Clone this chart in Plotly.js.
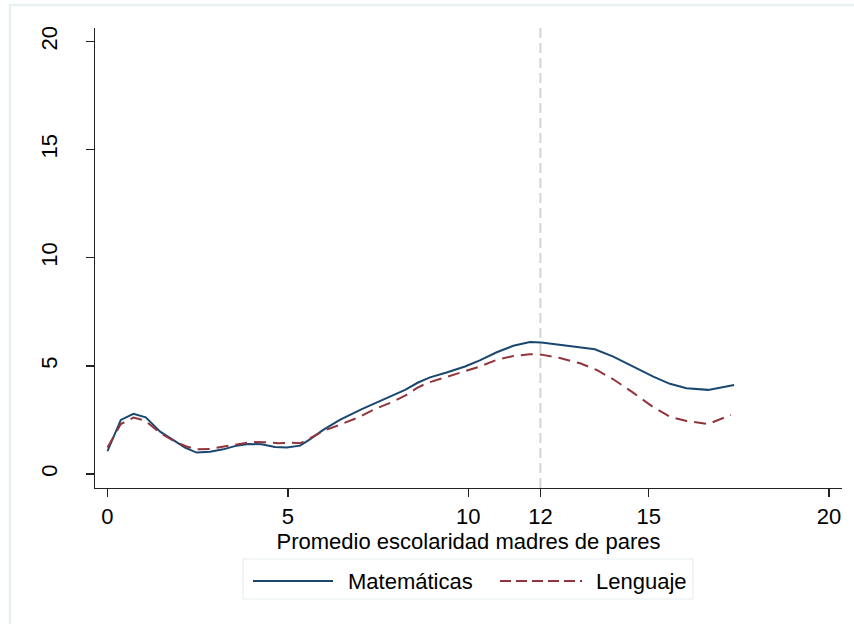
<!DOCTYPE html>
<html>
<head>
<meta charset="utf-8">
<script src="https://cdn.plot.ly/plotly-3.0.1.min.js"></script>
<style>html,body{margin:0;padding:0;background:#fff;}#chart{width:854px;height:624px;}</style>
</head>
<body>
<div id="chart"></div>
<script>
const mathX = [0.0,0.37,0.72,1.06,1.46,1.82,2.15,2.47,2.84,3.21,3.58,3.90,4.27,4.64,4.97,5.34,5.61,5.98,6.44,7.05,7.41,7.83,8.25,8.61,8.94,9.40,9.91,10.32,10.79,11.25,11.71,12.03,12.45,13.00,13.51,14.02,14.57,15.13,15.59,16.05,16.65,17.25,17.37];
const mathY = [1.06,2.50,2.78,2.62,1.96,1.57,1.22,0.99,1.03,1.14,1.31,1.39,1.37,1.25,1.23,1.31,1.60,2.04,2.50,3.00,3.27,3.55,3.89,4.23,4.47,4.69,4.97,5.25,5.63,5.93,6.10,6.08,5.99,5.90,5.77,5.43,4.97,4.50,4.17,3.97,3.89,4.09,4.12];
const langX = [0.0,0.37,0.72,1.04,1.46,1.87,2.19,2.47,2.84,3.21,3.58,3.99,4.36,4.73,5.06,5.34,5.61,5.98,6.49,7.00,7.41,7.92,8.29,8.57,8.85,9.31,9.77,10.32,10.79,11.25,11.71,12.03,12.54,13.10,13.56,14.02,14.57,15.13,15.59,16.05,16.65,17.28];
const langY = [1.22,2.31,2.61,2.47,1.90,1.50,1.27,1.14,1.16,1.27,1.39,1.48,1.47,1.42,1.45,1.42,1.65,1.99,2.31,2.65,3.00,3.35,3.66,3.97,4.20,4.43,4.69,4.97,5.28,5.46,5.54,5.52,5.36,5.12,4.81,4.38,3.76,3.09,2.65,2.45,2.31,2.73];
const xTicks = [0,5,10,12,15,20];
const yTicks = [0,5,10,15,20];
const refLineX = 12;
const seriesNames = ['Matemáticas','Lenguaje'];
const xTitle = 'Promedio escolaridad madres de pares';

const navy = '#1a476f', maroon = '#90353b';
const font = 'Liberation Sans, Arial, Helvetica, sans-serif';

const traces = [
  {x: mathX, y: mathY, mode: 'lines', name: seriesNames[0], line: {color: navy, width: 2}},
  {x: langX, y: langY, mode: 'lines', name: seriesNames[1], line: {color: maroon, width: 2, dash: '12px,7px'}}
];

const layout = {
  width: 854, height: 624,
  margin: {l: 95, r: 12, t: 28, b: 136},
  paper_bgcolor: '#fff', plot_bgcolor: '#fff',
  showlegend: false,
  font: {family: font, size: 22, color: '#000'},
  xaxis: {
    range: [-0.346, 20.36], tickvals: xTicks, ticktext: xTicks.map(String),
    showline: true, linecolor: '#222', linewidth: 1.3,
    ticks: 'outside', ticklen: 8, tickwidth: 1.3, tickcolor: '#222',
    showgrid: false, zeroline: false,
    tickfont: {size: 22},
    title: {text: xTitle, font: {size: 22}, standoff: 0}
  },
  yaxis: {
    range: [-0.648, 20.625], tickvals: yTicks, ticktext: yTicks.map(String),
    showline: true, linecolor: '#222', linewidth: 1.3,
    ticks: 'outside', ticklen: 8, tickwidth: 1.3, tickcolor: '#222',
    showgrid: false, zeroline: false, tickangle: -90,
    tickfont: {size: 22}, ticklabelstandoff: 20
  },
  shapes: [
    {type: 'line', xref: 'x', yref: 'paper', x0: refLineX, x1: refLineX, y0: 0, y1: 1,
     line: {color: '#d4d4d4', width: 2, dash: '10px,5px'}, layer: 'below'},
    {type: 'rect', xref: 'paper', yref: 'paper', x0: -0.1138, x1: 1.2, y0: 1.05, y1: -0.4,
     line: {color: '#e8f0f2', width: 2.5}},
    {type: 'rect', xref: 'paper', yref: 'paper', x0: 0.198, x1: 0.8005, y0: -0.1543, y1: -0.2413,
     line: {color: '#e8eef0', width: 1.2}},
    {type: 'line', xref: 'paper', yref: 'paper', x0: 0.2115, x1: 0.3186, y0: -0.2022, y1: -0.2022,
     line: {color: navy, width: 2}},
    {type: 'line', xref: 'paper', yref: 'paper', x0: 0.5422, x1: 0.652, y0: -0.2022, y1: -0.2022,
     line: {color: maroon, width: 2, dash: '11px,5px'}}
  ],
  annotations: [
    {xref: 'paper', yref: 'paper', x: 0.336, y: -0.2022, xanchor: 'left', yanchor: 'middle',
     text: seriesNames[0], showarrow: false, font: {size: 22}},
    {xref: 'paper', yref: 'paper', x: 0.668, y: -0.2022, xanchor: 'left', yanchor: 'middle',
     text: seriesNames[1], showarrow: false, font: {size: 22}}
  ]
};

Plotly.newPlot('chart', traces, layout, {displayModeBar: false, staticPlot: true});
</script>
</body>
</html>
